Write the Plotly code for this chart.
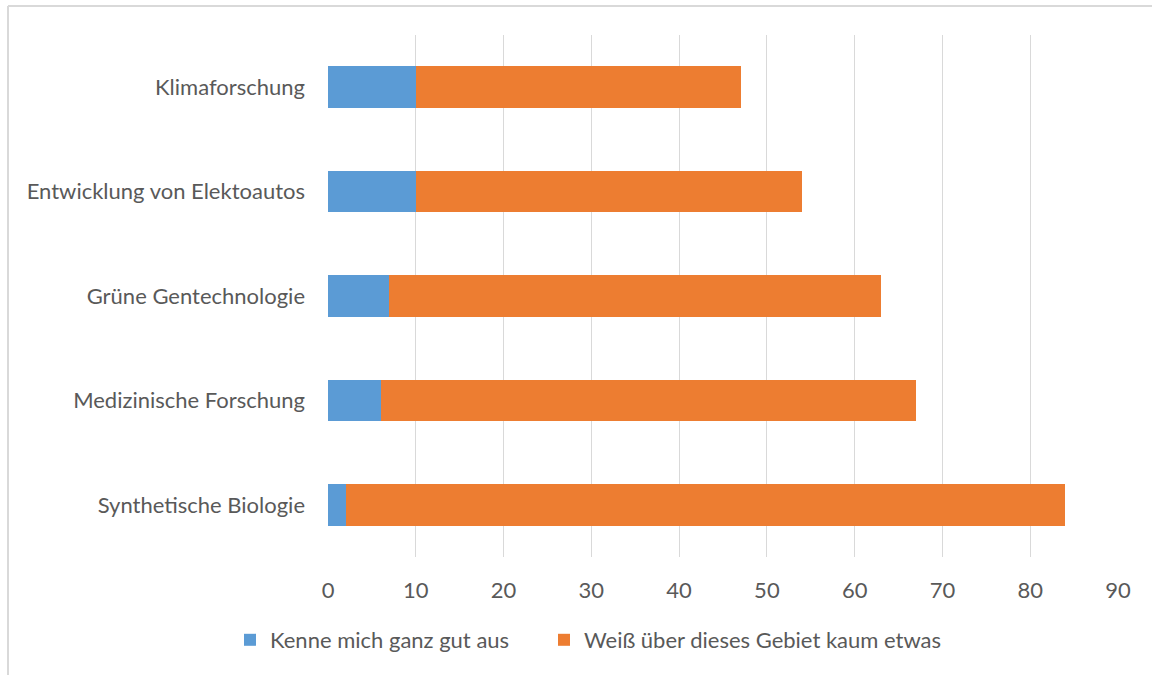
import plotly.graph_objects as go

categories = ["Synthetische Biologie", "Medizinische Forschung", "Grüne Gentechnologie",
              "Entwicklung von Elektoautos", "Klimaforschung"]
kenne = [2, 6, 7, 10, 10]
weiss = [82, 61, 56, 44, 37]
series_names = ["Kenne mich ganz gut aus", "Weiß über dieses Gebiet kaum etwas"]
x_ticks = [0, 10, 20, 30, 40, 50, 60, 70, 80, 90]

FONT = "Lato, 'Open Sans', sans-serif"
TXT = "#595959"

fig = go.Figure()
fig.add_trace(go.Bar(y=categories, x=kenne, orientation="h", name=series_names[0],
                     marker=dict(color="#5B9BD5", line=dict(width=0)), legend="legend"))
fig.add_trace(go.Bar(y=categories, x=weiss, orientation="h", name=series_names[1],
                     marker=dict(color="#ED7D31", line=dict(width=0)), legend="legend2"))

W, H = 1152, 675
L, R, T, B = 328, 34, 35, 118
pw, ph = W - L - R, H - T - B

leg_common = dict(orientation="h", xanchor="left", y=(H - B - 640) / ph, yanchor="middle",
                  font=dict(size=22, color=TXT), itemwidth=30, bgcolor="rgba(0,0,0,0)")

fig.update_layout(
    width=W, height=H, barmode="stack", bargap=0.6,
    margin=dict(l=L, r=R, t=T, b=B, autoexpand=False),
    paper_bgcolor="white", plot_bgcolor="white",
    font=dict(family=FONT, color=TXT, size=22),
    xaxis=dict(range=[0, 90], tickvals=x_ticks, showgrid=True, gridcolor="#d9d9d9",
               gridwidth=1, zeroline=False, showline=False, ticks="",
               ticklabelstandoff=18, tickfont=dict(size=22, color=TXT)),
    yaxis=dict(showgrid=False, zeroline=False, showline=False, ticks="",
               ticklabelstandoff=22, tickfont=dict(size=22, color=TXT)),
    legend=dict(x=(230 - L) / pw, **leg_common),
    legend2=dict(x=(544 - L) / pw, **leg_common),
    showlegend=True,
    shapes=[
        dict(type="line", xref="paper", yref="paper",
             x0=(8 - L) / pw, x1=(8 - L) / pw, y0=(H - B - 6) / ph, y1=(H - B - 680) / ph,
             line=dict(color="#d9d9d9", width=2)),
        dict(type="line", xref="paper", yref="paper",
             x0=(8 - L) / pw, x1=(1160 - L) / pw, y0=(H - B - 6) / ph, y1=(H - B - 6) / ph,
             line=dict(color="#d9d9d9", width=2)),
    ],
)

fig.write_html("out.html")
